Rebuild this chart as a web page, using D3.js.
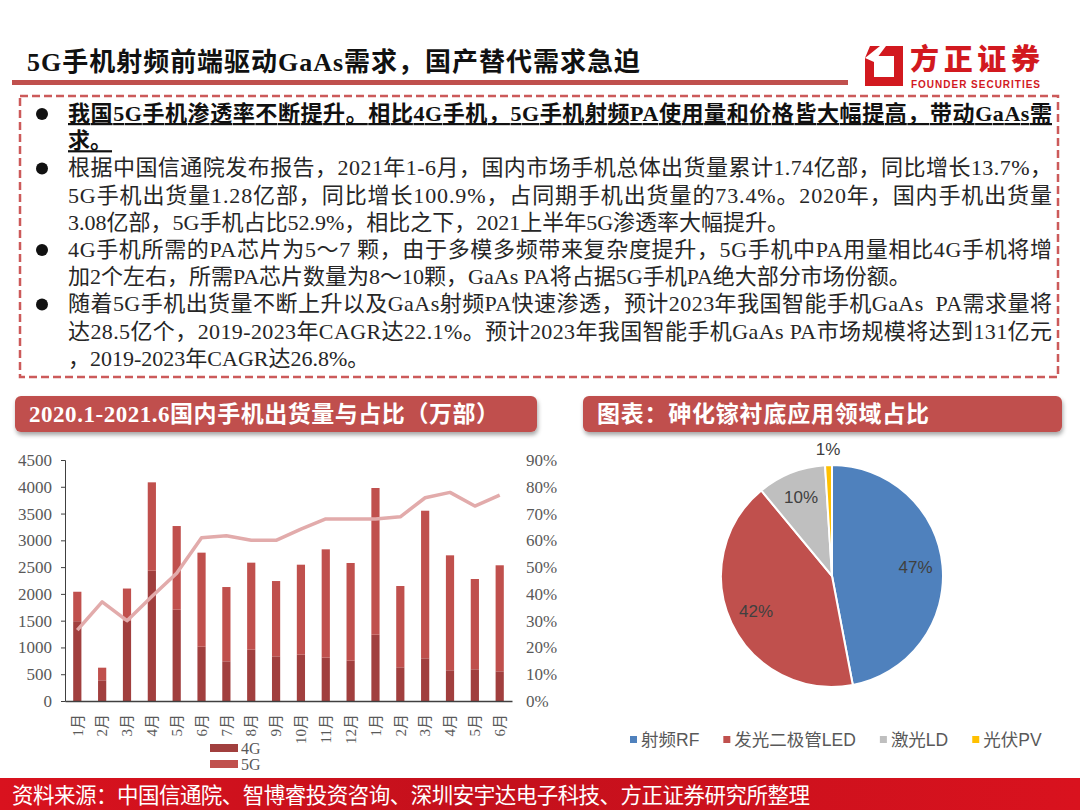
<!DOCTYPE html>
<html>
<head>
<meta charset="utf-8">
<script src="https://cdn.jsdelivr.net/npm/d3@7"></script>
<style>
  body { margin: 0; background: #fff; }
</style>
</head>
<body>
<div class="canva"></div>
<script>
// ---- data ----
const months = ["1月","2月","3月","4月","5月","6月","7月","8月","9月","10月","11月","12月","1月","2月","3月","4月","5月","6月"];
const sales4G = [1490, 386, 1500, 2433, 1705, 1014, 741, 958, 834, 865, 809, 753, 1238, 629, 797, 573, 592, 554];
const sales5G = [550, 236, 600, 1650, 1562, 1756, 1387, 1625, 1406, 1680, 2023, 1824, 2739, 1518, 2756, 2147, 1686, 1980];
const share5G = [0.265, 0.37, 0.30, 0.39, 0.477, 0.61, 0.617, 0.60, 0.60, 0.642, 0.68, 0.68, 0.68, 0.688, 0.759, 0.779, 0.728, 0.769];
const leftTicks = [0, 500, 1000, 1500, 2000, 2500, 3000, 3500, 4000, 4500];
const rightTicks = [0, 0.1, 0.2, 0.3, 0.4, 0.5, 0.6, 0.7, 0.8, 0.9];
const seriesNames = ["4G", "5G"];

const pieNames = ["射频RF", "发光二极管LED", "激光LD", "光伏PV"];
const pieValues = [47, 42, 10, 1];

const textLines = [
  { t: "我国5G手机渗透率不断提升。相比4G手机，5G手机射频PA使用量和价格皆大幅提高，带动GaAs需", bullet: true, bold: true, full: true },
  { t: "求。", bold: true },
  { t: "根据中国信通院发布报告，2021年1-6月，国内市场手机总体出货量累计1.74亿部，同比增长13.7%，", bullet: true, full: true },
  { t: "5G手机出货量1.28亿部，同比增长100.9%，占同期手机出货量的73.4%。2020年，国内手机出货量", full: true },
  { t: "3.08亿部，5G手机占比52.9%，相比之下，2021上半年5G渗透率大幅提升。" },
  { t: "4G手机所需的PA芯片为5～7 颗，由于多模多频带来复杂度提升，5G手机中PA用量相比4G手机将增", bullet: true, full: true },
  { t: "加2个左右，所需PA芯片数量为8～10颗，GaAs PA将占据5G手机PA绝大部分市场份额。" },
  { t: "随着5G手机出货量不断上升以及GaAs射频PA快速渗透，预计2023年我国智能手机GaAs  PA需求量将", bullet: true, full: true },
  { t: "达28.5亿个，2019-2023年CAGR达22.1%。预计2023年我国智能手机GaAs PA市场规模将达到131亿元", full: true },
  { t: "，2019-2023年CAGR达26.8%。" }
];

// ---- look ----
const red = "#c0504d";
const dark4G = "#a13f3e";
const lineCol = "#e2abab";
const pieColors = ["#4f81bd", "#c0504d", "#bfbfbf", "#ffc000"];
const serif = "'Liberation Serif','Times New Roman','Noto Sans CJK SC',serif";
const sans = "'Liberation Sans',Arial,'Noto Sans CJK SC',sans-serif";

const svg = d3.select(".canva").append("svg")
    .attr("width", 1080)
    .attr("height", 810)
    .style("display", "block");

const defs = svg.append("defs");
const shadow = defs.append("filter").attr("id", "shadow")
    .attr("x", "-5%").attr("y", "-30%").attr("width", "110%").attr("height", "170%");
shadow.append("feDropShadow").attr("dx", 1).attr("dy", 3).attr("stdDeviation", 2)
    .attr("flood-color", "#000").attr("flood-opacity", 0.35);

const footGrad = defs.append("linearGradient").attr("id", "footGrad");
footGrad.append("stop").attr("offset", "0%").attr("stop-color", "#d9121e");
footGrad.append("stop").attr("offset", "45%").attr("stop-color", "#c4101c");
footGrad.append("stop").attr("offset", "100%").attr("stop-color", "#d9121e");

// ---- header ----
svg.append("text")
    .attr("x", 27).attr("y", 71)
    .attr("font-family", serif)
    .attr("font-weight", "bold")
    .attr("font-size", 26)
    .attr("fill", "#111")
    .attr("textLength", 613)
    .text("5G手机射频前端驱动GaAs需求，国产替代需求急迫");

svg.append("rect")
    .attr("x", 12).attr("y", 80).attr("width", 836).attr("height", 5)
    .attr("fill", red);

// logo
const logo = svg.append("g");
logo.append("path")
    .attr("d", "M870,46 L903,46 L903,86 L865,86 L865,58 Z M876,56 L874,58 L874,77 L894,77 L894,56 Z")
    .attr("fill-rule", "evenodd")
    .attr("fill", "#d2191f");
logo.append("path")
    .attr("d", "M865,58 L880,46 L886,46 L874,62 Z")
    .attr("fill", "#fff");
logo.append("text")
    .attr("x", 910).attr("y", 70)
    .attr("font-family", "'Noto Sans CJK SC',sans-serif")
    .attr("font-weight", 900)
    .attr("font-size", 29)
    .attr("fill", "#d2191f")
    .attr("textLength", 130)
    .text("方正证券");
logo.append("text")
    .attr("x", 911).attr("y", 88)
    .attr("font-family", sans)
    .attr("font-weight", "bold")
    .attr("font-size", 10)
    .attr("fill", "#d2191f")
    .attr("textLength", 129)
    .text("FOUNDER SECURITIES");

// ---- text box ----
svg.append("rect")
    .attr("x", 20).attr("y", 96).attr("width", 1038).attr("height", 281)
    .attr("fill", "none")
    .attr("stroke", "#cc5a5a")
    .attr("stroke-width", 2.5)
    .attr("stroke-dasharray", "8,4");

textLines.forEach((ln, i) => {
    const y = 121 + i * 27.2;
    const t = svg.append("text")
        .attr("x", 68).attr("y", y)
        .attr("font-family", serif)
        .attr("font-size", 22)
        .attr("fill", ln.bold ? "#111" : "#262626")
        .attr("font-weight", ln.bold ? "bold" : "normal")
        .style("white-space", "pre")
        .text(ln.t);
    if (ln.full) t.attr("textLength", 984).attr("lengthAdjust", "spacing");
    if (ln.bold) t.style("text-decoration", "underline");
    if (ln.bullet) {
        svg.append("circle").attr("cx", 42).attr("cy", y - 7).attr("r", 6).attr("fill", "#111");
    }
});

// ---- section headers ----
function header(x, w, label, font, len) {
    svg.append("rect")
        .attr("x", x).attr("y", 396).attr("width", w).attr("height", 36)
        .attr("rx", 6)
        .attr("fill", red)
        .attr("filter", "url(#shadow)");
    svg.append("text")
        .attr("x", x + 14).attr("y", 422)
        .attr("font-family", font)
        .attr("font-weight", "bold")
        .attr("font-size", 23)
        .attr("fill", "#fff")
        .attr("textLength", len)
        .text(label);
}
header(15, 522, "2020.1-2021.6国内手机出货量与占比（万部）", serif, 470);
header(583, 479, "图表：砷化镓衬底应用领域占比", "'Noto Sans CJK SC',sans-serif", 332);

// ---- bar + line chart ----
const x = d3.scaleBand()
    .domain(d3.range(months.length))
    .range([65, 512])
    .paddingInner(0.67)
    .paddingOuter(0.33);
const y = d3.scaleLinear().domain([0, 4500]).range([701, 460]);
const y2 = d3.scaleLinear().domain([0, 0.9]).range([701, 460]);

const table = months.map((m, i) => ({ i: i, "4G": sales4G[i], "5G": sales5G[i] }));
const stacked = d3.stack().keys(seriesNames)(table);
const barColors = [dark4G, red];

svg.append("g").selectAll("g")
    .data(stacked)
    .join("g")
    .attr("fill", (d, k) => barColors[k])
    .selectAll("rect")
    .data(d => d)
    .join("rect")
    .attr("x", d => x(d.data.i))
    .attr("width", x.bandwidth())
    .attr("y", d => y(d[1]))
    .attr("height", d => y(d[0]) - y(d[1]));

const line = d3.line()
    .x((d, i) => x(i) + x.bandwidth() / 2)
    .y(d => y2(d));
svg.append("path")
    .datum(share5G)
    .attr("d", line)
    .attr("fill", "none")
    .attr("stroke", lineCol)
    .attr("stroke-width", 3.5)
    .attr("stroke-linejoin", "round");

const gl = svg.append("g")
    .attr("transform", "translate(65,0)")
    .call(d3.axisLeft(y).tickValues(leftTicks).tickSize(4).tickPadding(9).tickFormat(d3.format("d")));
gl.selectAll("text").attr("font-family", serif).attr("font-size", 17).attr("fill", "#595959");
gl.selectAll("line, path").attr("stroke", "#404040");

const gr = svg.append("g")
    .attr("transform", "translate(518,0)")
    .call(d3.axisRight(y2).tickValues(rightTicks).tickSize(0).tickPadding(8).tickFormat(d3.format(".0%")));
gr.select(".domain").remove();
gr.selectAll("text").attr("font-family", serif).attr("font-size", 17).attr("fill", "#595959");

const gb = svg.append("g")
    .attr("transform", "translate(0,701)")
    .call(d3.axisBottom(x).tickSize(0).tickFormat(i => months[i]));
gb.select(".domain").attr("stroke", "#404040").attr("stroke-width", 1.5);
gb.selectAll("text")
    .attr("font-family", serif)
    .attr("font-size", 15)
    .attr("fill", "#595959")
    .attr("transform", "rotate(-90)")
    .attr("text-anchor", "end")
    .attr("x", -13)
    .attr("y", 0)
    .attr("dy", "0.35em");

const lg = svg.append("g");
seriesNames.forEach((s, k) => {
    lg.append("rect").attr("x", 210).attr("y", 744 + k * 16).attr("width", 28).attr("height", 8).attr("fill", barColors[k]);
    lg.append("text").attr("x", 241).attr("y", 754 + k * 16)
        .attr("font-family", serif).attr("font-size", 16).attr("fill", "#595959").text(s);
});

// ---- pie ----
const cx = 832, cy = 576, R = 111;
const pie = d3.pie().sort(null).value(d => d)(pieValues);
const arc = d3.arc().innerRadius(0).outerRadius(R);
const pg = svg.append("g").attr("transform", `translate(${cx},${cy})`);
pg.selectAll("path")
    .data(pie)
    .join("path")
    .attr("d", arc)
    .attr("fill", (d, i) => pieColors[i])
    .attr("stroke", "#fff")
    .attr("stroke-width", 2);

const labelArc = d3.arc().innerRadius(84).outerRadius(84);
const outArc = d3.arc().innerRadius(126).outerRadius(126);
pg.selectAll("text")
    .data(pie)
    .join("text")
    .attr("transform", d => `translate(${(d.data < 5 ? outArc : labelArc).centroid(d)})`)
    .attr("text-anchor", "middle")
    .attr("dy", "0.3em")
    .attr("font-family", sans)
    .attr("font-size", 17)
    .attr("fill", "#404040")
    .text(d => d.data + "%");

// pie legend
let lx = 630;
pieNames.forEach((n, i) => {
    svg.append("rect").attr("x", lx).attr("y", 736).attr("width", 7).attr("height", 7).attr("fill", pieColors[i]);
    const t = svg.append("text").attr("x", lx + 11).attr("y", 746)
        .attr("font-family", sans).attr("font-size", 17.5).attr("fill", "#595959").text(n);
    lx += 11 + t.node().getComputedTextLength() + 24;
});

// ---- footer ----
svg.append("rect")
    .attr("x", 0).attr("y", 778).attr("width", 1080).attr("height", 32)
    .attr("fill", "url(#footGrad)");
svg.append("text")
    .attr("x", 12).attr("y", 803)
    .attr("font-family", "'Noto Sans CJK SC',sans-serif")
    .attr("font-size", 21.5)
    .attr("fill", "#fff")
    .attr("textLength", 798)
    .text("资料来源：中国信通院、智博睿投资咨询、深圳安宇达电子科技、方正证券研究所整理");
</script>
</body>
</html>
